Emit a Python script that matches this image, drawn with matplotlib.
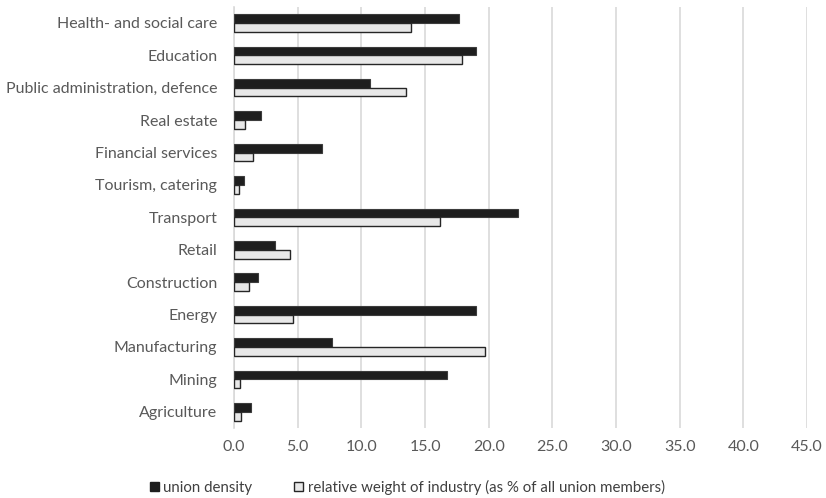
import numpy as np
import matplotlib
matplotlib.use('Agg')
import matplotlib.pyplot as plt
from matplotlib.patches import Patch

# dane (od góry do dołu)
industries = ['Health- and social care', 'Education', 'Public administration, defence',
              'Real estate', 'Financial services', 'Tourism, catering', 'Transport',
              'Retail', 'Construction', 'Energy', 'Manufacturing', 'Mining', 'Agriculture']
union_density = [17.7, 19.0, 10.7, 2.1, 6.9, 0.8, 22.3, 3.2, 1.9, 19.0, 7.7, 16.7, 1.3]
relative_weight = [13.9, 17.9, 13.5, 0.9, 1.5, 0.4, 16.2, 4.4, 1.2, 4.6, 19.7, 0.5, 0.55]
xticks = [0, 5, 10, 15, 20, 25, 30, 35, 40, 45]

plt.rcParams['font.family'] = ['Lato', 'DejaVu Sans']

fig = plt.figure(figsize=(8.26, 4.98), dpi=100)
ax = fig.add_axes([0.2833, 0.1406, 0.6937, 0.8459])

y = np.arange(len(industries))
h = 0.27
ax.barh(y - h / 2, union_density, height=h, color='#1e1e1e', edgecolor='#3c3c3c',
        linewidth=0.8, zorder=3)
ax.barh(y + h / 2, relative_weight, height=h, color='#e8e8e8', edgecolor='#262626',
        linewidth=1.0, zorder=3)

ax.set_xlim(0, 45)
ax.set_ylim(len(industries) - 0.5, -0.5)
ax.set_xticks(xticks)
ax.set_xticklabels([f'{t:.1f}' for t in xticks])
ax.set_yticks(y)
ax.set_yticklabels(industries)
ax.tick_params(axis='y', length=0, labelsize=11.5, colors='#595959', pad=12)
ax.tick_params(axis='x', length=0, labelsize=11.5, colors='#595959', pad=9)
ax.grid(axis='x', color='#d9d9d9', linewidth=1.2, zorder=0)
for s in ['top', 'right', 'bottom']:
    ax.spines[s].set_visible(False)
ax.spines['left'].set_color('#d9d9d9')
ax.spines['left'].set_linewidth(1.2)

handles = [Patch(facecolor='#1e1e1e', edgecolor='#1e1e1e', label='union density'),
           Patch(facecolor='#e8e8e8', edgecolor='#262626', label='relative weight of industry (as % of all union members)')]
leg = fig.legend(handles=handles, loc='center', bbox_to_anchor=(0.493, 0.022), ncol=2,
                 frameon=False, fontsize=10.8, handlelength=0.6, handleheight=0.6,
                 handletextpad=0.3, columnspacing=2.8)
for t in leg.get_texts():
    t.set_color('#404040')

fig.savefig('out.png', dpi=100)
